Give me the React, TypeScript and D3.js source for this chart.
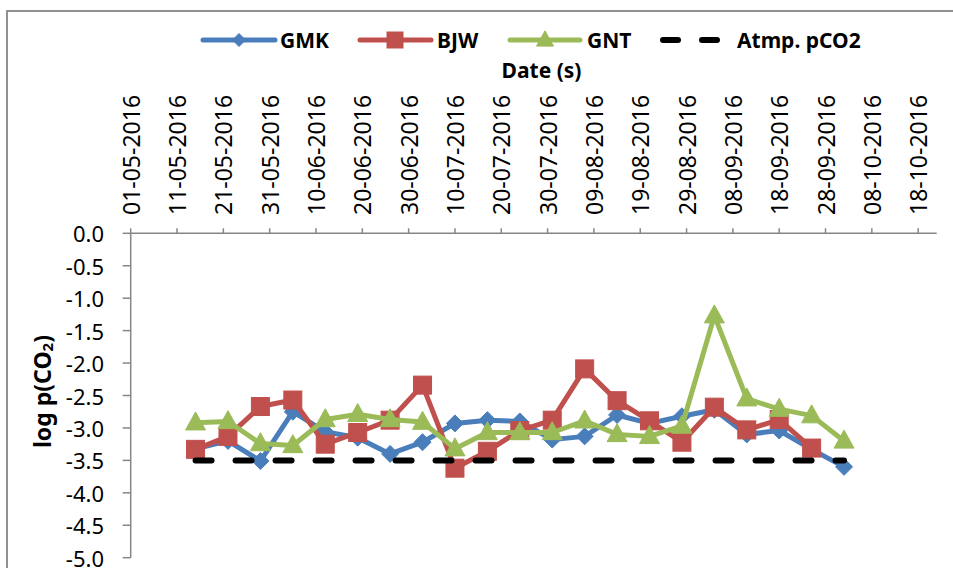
import React from "react";
import * as d3 from "d3";

// ---- data ----
const sampleDates = [
  "15-05-2016", "22-05-2016", "29-05-2016", "05-06-2016", "12-06-2016", "19-06-2016", "26-06-2016",
  "03-07-2016", "10-07-2016", "17-07-2016", "24-07-2016", "31-07-2016", "07-08-2016", "14-08-2016",
  "21-08-2016", "28-08-2016", "04-09-2016", "11-09-2016", "18-09-2016", "25-09-2016", "02-10-2016",
];
const gmk = [-3.32, -3.2, -3.51, -2.75, -3.06, -3.15, -3.4, -3.22, -2.93, -2.88, -2.9, -3.18, -3.13, -2.8, -2.93, -2.82, -2.72, -3.1, -3.04, -3.33, -3.6];
const bjw = [-3.33, -3.13, -2.67, -2.57, -3.25, -3.07, -2.88, -2.34, -3.62, -3.36, -3.04, -2.88, -2.09, -2.58, -2.89, -3.22, -2.68, -3.03, -2.87, -3.31];
const gnt = [-2.92, -2.9, -3.24, -3.27, -2.87, -2.79, -2.87, -2.91, -3.32, -3.07, -3.07, -3.07, -2.89, -3.1, -3.13, -2.97, -1.27, -2.55, -2.71, -2.81, -3.2];
const atmp = [-3.5, -3.5, -3.5, -3.5, -3.5, -3.5, -3.5, -3.5, -3.5, -3.5, -3.5, -3.5, -3.5, -3.5, -3.5, -3.5, -3.5, -3.5, -3.5, -3.5, -3.5];

const xTickLabels = [
  "01-05-2016", "11-05-2016", "21-05-2016", "31-05-2016", "10-06-2016", "20-06-2016", "30-06-2016",
  "10-07-2016", "20-07-2016", "30-07-2016", "09-08-2016", "19-08-2016", "29-08-2016", "08-09-2016",
  "18-09-2016", "28-09-2016", "08-10-2016", "18-10-2016",
];
const yTicks = [0, -0.5, -1, -1.5, -2, -2.5, -3, -3.5, -4, -4.5, -5];
const xDomain = ["01-05-2016", "22-10-2016"];

const parse = d3.timeParse("%d-%m-%Y");

const BLUE = "#4A7EBB";
const RED = "#C0504D";
const GREEN = "#9BBB59";
const AXIS = "#868686";
const FONT = "'Noto Sans', 'Open Sans', sans-serif";

const W = 953, H = 568;
const X0 = 130.7, X1 = 936.7, Y0 = 233.3, Y1 = 557.7;

function Marker({ type, x, y, color, size }: { type: string; x: number; y: number; color: string; size: number }) {
  if (type === "diamond") {
    const r = size / 2;
    return <path d={`M${x},${y - r}L${x + r},${y}L${x},${y + r}L${x - r},${y}Z`} fill={color} stroke={color} strokeWidth={1} />;
  }
  if (type === "square") {
    return <rect x={x - size / 2} y={y - size / 2} width={size} height={size} fill={color} stroke={color} strokeWidth={1} />;
  }
  const w = size, h = size * 0.9;
  return <path d={`M${x},${y - h * 0.6}L${x + w / 2},${y + h * 0.4}L${x - w / 2},${y + h * 0.4}Z`} fill={color} stroke={color} strokeWidth={1} />;
}

export default function App() {
  const x = d3.scaleTime().domain(xDomain.map((d) => parse(d) as Date)).range([X0, X1]);
  const y = d3.scaleLinear().domain([0, -5]).range([Y0, Y1]);
  const fmt = (v: number) => d3.format(".1f")(v).replace("\u2212", "-");
  const dates = sampleDates.map((d) => parse(d) as Date);

  const mkLine = (vals: number[]) =>
    d3.line<number>().x((_, i) => x(dates[i])).y((v) => y(v))(vals) || "";

  const series = [
    { name: "GMK", vals: gmk, color: BLUE, marker: "diamond", size: 17 },
    { name: "BJW", vals: bjw, color: RED, marker: "square", size: 18 },
    { name: "GNT", vals: gnt, color: GREEN, marker: "triangle", size: 20 },
  ];

  return (
    <svg width={W} height={H} style={{ position: "absolute", left: 0, top: 0, background: "#fff" }}>
      {/* chart border */}
      <rect x={7} y={11} width={1000} height={700} fill="none" stroke={AXIS} strokeWidth={1.8} />

      {/* legend */}
      <g fontFamily={FONT} fontWeight="bold" fontSize={21} fill="#000">
        <line x1={203} x2={275} y1={40} y2={40} stroke={BLUE} strokeWidth={5} strokeLinecap="round" />
        <Marker type="diamond" x={239} y={40} color={BLUE} size={13} />
        <text x={280} y={48}>GMK</text>
        <line x1={360} x2={431} y1={40} y2={40} stroke={RED} strokeWidth={5} strokeLinecap="round" />
        <Marker type="square" x={395} y={40} color={RED} size={16} />
        <text x={437} y={48}>BJW</text>
        <line x1={510} x2={580} y1={40} y2={40} stroke={GREEN} strokeWidth={5} strokeLinecap="round" />
        <Marker type="triangle" x={545} y={40} color={GREEN} size={17} />
        <text x={587} y={48}>GNT</text>
        <line x1={663} x2={678} y1={40} y2={40} stroke="#000" strokeWidth={6} strokeLinecap="round" />
        <line x1={702} x2={717} y1={40} y2={40} stroke="#000" strokeWidth={6} strokeLinecap="round" />
        <text x={737} y={48}>Atmp. pCO2</text>
        <text x={541.5} y={78} textAnchor="middle">Date (s)</text>
      </g>

      {/* x axis (top) */}
      <line x1={X0} x2={X1} y1={Y0} y2={Y0} stroke={AXIS} strokeWidth={1.5} />
      {xTickLabels.map((lab) => {
        const tx = x(parse(lab) as Date);
        return (
          <g key={lab}>
            <line x1={tx} x2={tx} y1={Y0} y2={Y0 - 5} stroke={AXIS} strokeWidth={1.5} />
            <text
              transform={`translate(${tx},${215}) rotate(-90)`}
              textAnchor="start"
              dominantBaseline="central"
              fontFamily={FONT}
              fontSize={23}
              fill="#000"
            >
              {lab}
            </text>
          </g>
        );
      })}

      {/* y axis */}
      <line x1={X0} x2={X0} y1={Y0} y2={Y1} stroke={AXIS} strokeWidth={1.5} />
      {yTicks.map((t) => (
        <g key={t}>
          <line x1={X0 - 8} x2={X0} y1={y(t)} y2={y(t)} stroke={AXIS} strokeWidth={1.5} />
          <text x={104} y={y(t)} textAnchor="end" dominantBaseline="central" fontFamily={FONT} fontSize={22} fill="#000">
            {fmt(t)}
          </text>
        </g>
      ))}
      <text
        transform={`translate(42,${(Y0 + Y1) / 2 - 4}) rotate(-90)`}
        textAnchor="middle"
        dominantBaseline="central"
        fontFamily={FONT}
        fontWeight="bold"
        fontSize={23}
        fill="#000"
      >
        log p(CO<tspan fontSize={15} dy={5}>2</tspan><tspan dy={-5}>)</tspan>
      </text>

      {/* series */}
      {series.map((s) => (
        <g key={s.name}>
          <path d={mkLine(s.vals)} fill="none" stroke={s.color} strokeWidth={5} strokeLinejoin="round" strokeLinecap="round" />
          {s.vals.map((v, i) => (
            <Marker key={i} type={s.marker} x={x(dates[i])} y={y(v)} color={s.color} size={s.size} />
          ))}
        </g>
      ))}
      <path d={mkLine(atmp)} fill="none" stroke="#000" strokeWidth={6} strokeDasharray="16 24" strokeLinecap="round" />
    </svg>
  );
}
